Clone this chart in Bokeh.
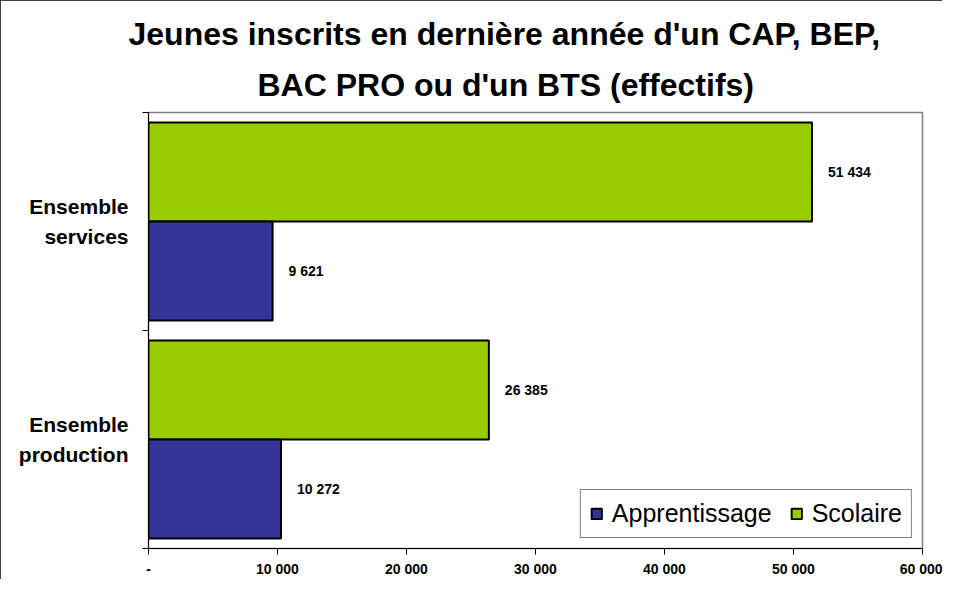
from bokeh.plotting import figure
from bokeh.models import ColumnDataSource, FixedTicker, LabelSet, Range1d, Title
from bokeh.core.properties import value
from bokeh.transform import dodge
from bokeh.embed import file_html
from bokeh.resources import INLINE

categories = ["Ensemble\nproduction", "Ensemble\nservices"]
apprentissage = [10272, 9621]
scolaire = [26385, 51434]
x_ticks = [0, 10000, 20000, 30000, 40000, 50000, 60000]
x_tick_labels = ["-", "10 000", "20 000", "30 000", "40 000", "50 000", "60 000"]
title_line1 = "Jeunes inscrits en dernière année d'un CAP, BEP,"
title_line2 = "BAC PRO ou d'un BTS (effectifs)"

FONT = "Liberation Sans"
pos = list(range(len(categories)))

def fmt(v):
    return f"{v:,}".replace(",", " ")

src = ColumnDataSource(dict(
    y=pos,
    app=apprentissage,
    sco=scolaire,
    app_lbl=[fmt(v) for v in apprentissage],
    sco_lbl=[fmt(v) for v in scolaire],
))

p = figure(width=942, height=579, output_backend="svg", toolbar_location=None, title=None,
           x_range=Range1d(0, 60000), y_range=Range1d(-0.5, len(categories) - 0.5),
           min_border_left=148, min_border_right=20, min_border_bottom=29, min_border_top=112)
p.styles = {"outline": "1px solid black", "outline-offset": "-1px"}

def make_title(text, offset, standoff):
    return Title(text=text, align="left", offset=offset, standoff=standoff,
                 text_font=FONT, text_font_size="32px", text_font_style="bold",
                 text_color="black")

# added nearest-first: line 2 sits next to the frame, line 1 above it
p.add_layout(make_title(title_line2, 109, 19), "above")
p.add_layout(make_title(title_line1, -20, 8), "above")

bar_h = 100 / 220
off = bar_h / 2
p.hbar(y=dodge("y", off), right="sco", height=bar_h, left=0, source=src,
       fill_color="#99CC00", line_color="black", line_width=2, legend_label="Scolaire")
p.hbar(y=dodge("y", -off), right="app", height=bar_h, left=0, source=src,
       fill_color="#333399", line_color="black", line_width=2, legend_label="Apprentissage")

lbl_style = dict(text_font=value(FONT), text_font_size=value("14px"), text_font_style="bold",
                 text_color="black", text_baseline="middle", text_align="left", x_offset=16)
p.add_layout(LabelSet(x="sco", y=dodge("y", off), text="sco_lbl", source=src, **lbl_style))
p.add_layout(LabelSet(x="app", y=dodge("y", -off), text="app_lbl", source=src, **lbl_style))

# axes
p.xaxis.ticker = FixedTicker(ticks=x_ticks)
p.xaxis.major_label_overrides = {t: l for t, l in zip(x_ticks, x_tick_labels)}
p.xaxis.major_label_text_font = FONT
p.xaxis.major_label_text_font_size = "14px"
p.xaxis.major_label_text_font_style = "bold"
p.xaxis.major_label_text_color = "black"
p.xaxis.major_label_standoff = 6
p.xaxis.major_tick_out = 6
p.xaxis.major_tick_in = 0
p.xaxis.major_tick_line_color = "black"
p.xaxis.minor_tick_line_color = None
p.xaxis.axis_line_color = "black"

p.yaxis.ticker = FixedTicker(ticks=pos, minor_ticks=[i - 0.5 for i in range(len(categories) + 1)])
p.yaxis.major_label_overrides = {i: c for i, c in zip(pos, categories)}
p.yaxis.major_label_text_font = FONT
p.yaxis.major_label_text_font_size = "21px"
p.yaxis.major_label_text_font_style = "bold"
p.yaxis.major_label_text_color = "black"
p.yaxis.major_label_text_align = "center"
p.yaxis.major_label_text_line_height = 1.33
p.yaxis.major_label_standoff = 14
p.yaxis.major_tick_line_color = None
p.yaxis.major_tick_out = 0
p.yaxis.major_tick_in = 0
p.yaxis.minor_tick_out = 6
p.yaxis.minor_tick_in = 0
p.yaxis.minor_tick_line_color = "black"
p.yaxis.axis_line_color = "black"

p.xgrid.grid_line_color = None
p.ygrid.grid_line_color = None
p.outline_line_color = "#808080"
p.outline_line_width = 1.5

p.legend.location = "bottom_right"
p.legend.orientation = "horizontal"
p.legend.margin = 10
p.legend.padding = 9
p.legend.spacing = 18
p.legend.label_text_font = FONT
p.legend.label_text_font_size = "25px"
p.legend.label_text_color = "black"
p.legend.label_height = 25
p.legend.glyph_width = 13
p.legend.glyph_height = 13
p.legend.label_standoff = 9
p.legend.border_line_color = "black"
p.legend.border_line_width = 1
p.legend.items = list(reversed(p.legend.items))

open("out.html", "w").write(file_html(p, INLINE))
